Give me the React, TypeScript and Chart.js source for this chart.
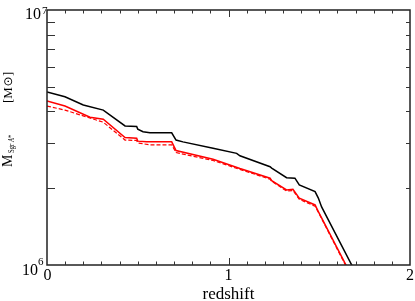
import React, { useEffect, useRef } from "react";
import { Chart, registerables } from "chart.js";

Chart.register(...registerables);

// redshift / mass (units of 1e6 Msun)
const zBlack = [0, 0.099, 0.2, 0.31, 0.43, 0.494, 0.5, 0.529, 0.567, 0.687, 0.711, 0.749, 0.915, 1.045, 1.063, 1.229, 1.238, 1.32, 1.366, 1.39, 1.477, 1.495, 1.513, 1.7];
const mBlack = [4.77, 4.57, 4.24, 4.05, 3.51, 3.49, 3.41, 3.33, 3.3, 3.3, 3.09, 3.04, 2.87, 2.74, 2.68, 2.43, 2.4, 2.2, 2.19, 2.06, 1.94, 1.83, 1.69, 0.935];

const zRed = [0, 0.099, 0.237, 0.31, 0.43, 0.494, 0.5, 0.549, 0.687, 0.711, 0.915, 1.063, 1.229, 1.238, 1.32, 1.355, 1.39, 1.477, 1.495, 1.67];
const mRed = [4.4, 4.2, 3.8, 3.73, 3.16, 3.14, 3.06, 3.04, 3.04, 2.81, 2.6, 2.39, 2.19, 2.14, 1.97, 1.98, 1.83, 1.72, 1.62, 0.93];

const zRedDash = [0, 0.099, 0.31, 0.43, 0.494, 0.5, 0.567, 0.687, 0.711, 0.915, 1.063, 1.229, 1.238, 1.32, 1.355, 1.39, 1.477, 1.495, 1.67];
const mRedDash = [4.2, 4.05, 3.63, 3.09, 3.08, 3.01, 2.96, 2.96, 2.76, 2.57, 2.37, 2.17, 2.13, 1.95, 1.96, 1.81, 1.7, 1.61, 0.92];

const xTickLabels = ["0", "1", "2"];
const xTickValues = [0, 1, 2];
const yMinorValues = [2e6, 3e6, 4e6, 5e6, 6e6, 7e6, 8e6, 9e6];

const toPts = (z: number[], m: number[]) => z.map((v, i) => ({ x: v, y: m[i] * 1e6 }));

const FONT = '"Liberation Serif", "Times New Roman", serif';

const framePlugin = {
  id: "frame",
  afterDraw(chart: any) {
    const { ctx, chartArea } = chart;
    const xs = chart.scales.x;
    const ys = chart.scales.y;
    const { left, right, top, bottom } = chartArea;
    ctx.save();
    ctx.strokeStyle = "#222";
    ctx.lineWidth = 1.5;
    ctx.strokeRect(left, top, right - left, bottom - top);
    ctx.lineWidth = 1;
    ctx.strokeStyle = "#333";
    ctx.beginPath();
    for (let i = 1; i < 20; i++) {
      const v = i / 10;
      const px = Math.round(xs.getPixelForValue(v)) + 0.5;
      const len = i % 10 === 0 ? 7 : 3.5;
      ctx.moveTo(px, bottom);
      ctx.lineTo(px, bottom - len);
      ctx.moveTo(px, top);
      ctx.lineTo(px, top + len);
    }
    for (const v of yMinorValues) {
      const py = Math.round(ys.getPixelForValue(v)) + 0.5;
      ctx.moveTo(left, py);
      ctx.lineTo(left + 8, py);
      ctx.moveTo(right, py);
      ctx.lineTo(right - 4, py);
    }
    ctx.stroke();

    ctx.fillStyle = "#000";
    ctx.textBaseline = "alphabetic";
    // x tick labels
    ctx.font = `16px ${FONT}`;
    ctx.textAlign = "center";
    xTickValues.forEach((v, i) => {
      const px = xs.getPixelForValue(v);
      ctx.fillText(xTickLabels[i], px + (i === 0 ? 0.5 : 0), bottom + 15);
    });
    // y tick labels 10^7, 10^6
    const y7 = ys.getPixelForValue(1e7);
    const y6 = ys.getPixelForValue(1e6);
    ctx.textAlign = "left";
    ctx.font = `16px ${FONT}`;
    ctx.fillText("10", 25, y7 + 8.5);
    ctx.fillText("10", 22, y6 + 10);
    ctx.font = `11px ${FONT}`;
    ctx.fillText("7", 42, y7 + 4);
    ctx.fillText("6", 38, y6);

    // x title
    ctx.font = `17px ${FONT}`;
    ctx.textAlign = "center";
    ctx.fillText("redshift", (left + right) / 2, 299);

    // y title rotated
    ctx.save();
    ctx.translate(12, 167);
    ctx.rotate(-Math.PI / 2);
    ctx.textAlign = "left";
    ctx.font = `14px ${FONT}`;
    ctx.fillText("M", 0, 0);
    ctx.font = `8px ${FONT}`;
    ctx.fillText("Sgr ", 14, 1.5, 11);
    ctx.font = `italic 8px ${FONT}`;
    ctx.fillText("A*", 25, 1.5, 7);
    ctx.font = `13px ${FONT}`;
    ctx.fillText("[M", 64, 0);
    const wBM = ctx.measureText("[M").width;
    ctx.font = `12px "DejaVu Sans", sans-serif`;
    ctx.fillText("\u2299", 64 + wBM + 0.5, -0.5);
    const wSun = ctx.measureText("\u2299").width;
    ctx.font = `13px ${FONT}`;
    ctx.fillText("]", 64 + wBM + wSun + 1, 0);
    ctx.restore();

    ctx.restore();
  },
};

export default function App() {
  const ref = useRef<HTMLCanvasElement | null>(null);
  useEffect(() => {
    if (!ref.current) return;
    const chart = new Chart(ref.current, {
      type: "line",
      data: {
        datasets: [
          {
            data: toPts(zBlack, mBlack),
            borderColor: "#000",
            borderWidth: 1.5,
            pointRadius: 0,
            tension: 0,
          },
          {
            data: toPts(zRed, mRed),
            borderColor: "#ff0000",
            borderWidth: 1.5,
            pointRadius: 0,
            tension: 0,
          },
          {
            data: toPts(zRedDash, mRedDash),
            borderColor: "#ff0000",
            borderWidth: 1.2,
            borderDash: [4, 2],
            pointRadius: 0,
            tension: 0,
          },
        ],
      },
      options: {
        animation: false,
        responsive: false,
        maintainAspectRatio: false,
        layout: { padding: { left: 47, right: 5, top: 10, bottom: 36 } },
        plugins: { legend: { display: false }, tooltip: { enabled: false } },
        scales: {
          x: { type: "linear", min: 0, max: 2, display: false },
          y: { type: "logarithmic", min: 1e6, max: 1e7, display: false },
        },
      },
      plugins: [framePlugin],
    });
    return () => chart.destroy();
  }, []);
  return (
    <div style={{ position: "fixed", left: 0, top: 0, width: 415, height: 301, background: "#fff" }}>
      <canvas ref={ref} width={415} height={301} style={{ width: 415, height: 301 }} />
    </div>
  );
}
